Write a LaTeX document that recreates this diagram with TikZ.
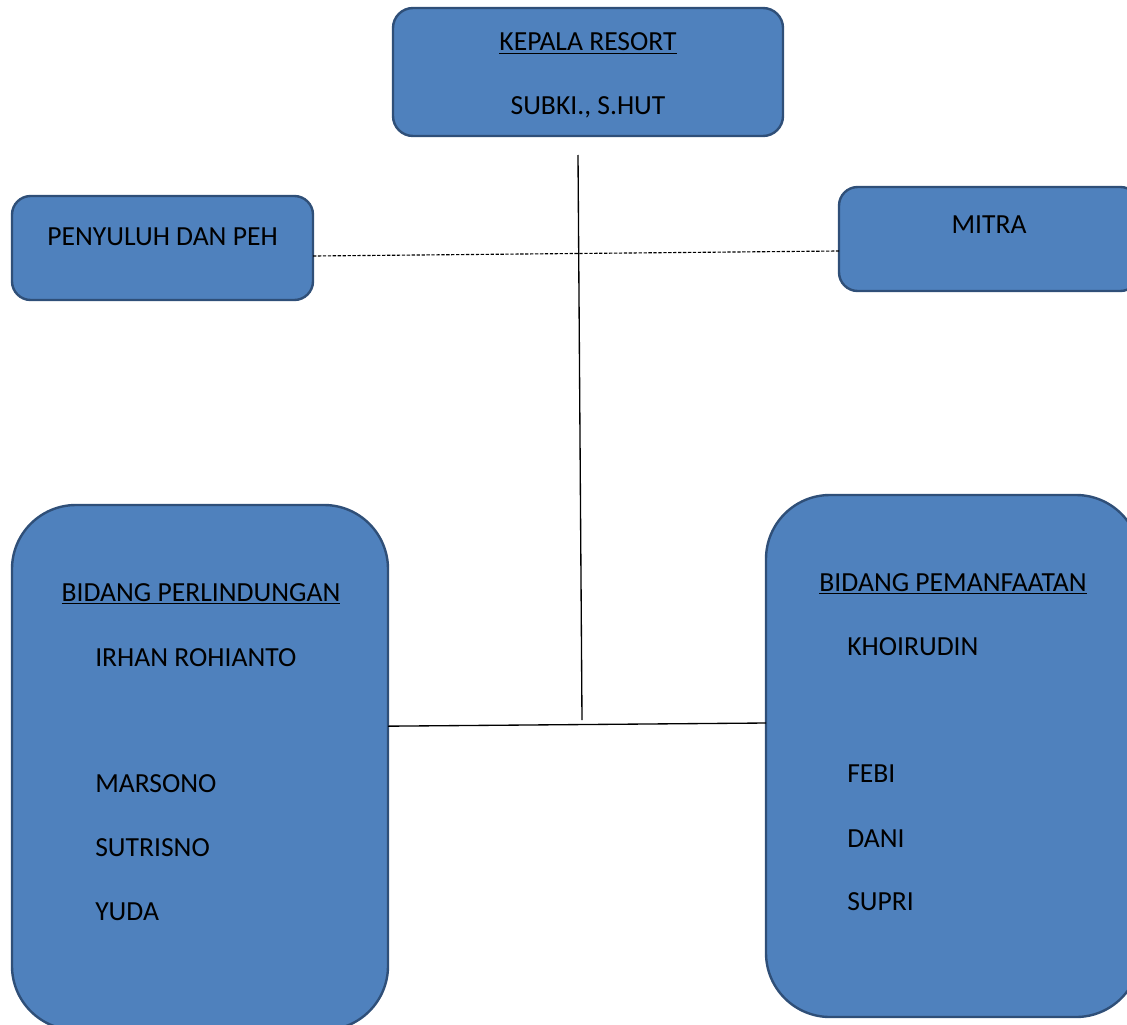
\documentclass[tikz,border=0pt]{standalone}
\usepackage{fontspec}
\setmainfont{Carlito}
\usetikzlibrary{positioning}
\definecolor{boxfill}{HTML}{4F81BD}
\definecolor{boxline}{HTML}{2F4F78}

\begin{document}
\begin{tikzpicture}[x=0.75pt,y=-0.75pt,
  box/.style={draw=boxline,fill=boxfill,line width=1.8pt,rounded corners=#1,outer sep=0pt,inner sep=0pt},
  box/.default=14pt,
  txt/.style={font=\fontsize{20.7}{24}\selectfont,inner sep=0pt},
  conn/.style={line width=1pt}]
\useasboundingbox (0,0) rectangle (1127,1024);
\clip (0,0) rectangle (1127,1024);
\node[box=15pt,minimum width=292.5pt,minimum height=96pt](kepala) at (588,72){};
\node[box,minimum width=225.75pt,minimum height=78pt](penyuluh) at (162.5,248){};
\node[box,minimum width=225pt,minimum height=78pt](mitra) at (989,239){};
\node[box=48pt,minimum width=282pt,minimum height=393.75pt](perlin) at (200,767.5){};
\node[box=48pt,minimum width=280.5pt,minimum height=391.5pt](manfaat) at (953,756){};
\node[txt,anchor=base](kepala-head) at (588,51){\underline{KEPALA RESORT}};
\node[txt,anchor=base](kepala-name) at (588,114){SUBKI., S.HUT};
\node[txt,anchor=base](penyuluh-text) at (162.5,245){PENYULUH DAN PEH};
\node[txt,anchor=base](mitra-text) at (989,233){MITRA};
\node[txt,anchor=base](perlin-head) at (201,601){\underline{BIDANG PERLINDUNGAN}};
\foreach \name/\y [count=\i] in {IRHAN ROHIANTO/657,MARSONO/783,SUTRISNO/847,YUDA/911}
  \node[txt,anchor=base west](perlin-\i) at (95,{\y+9}){\name};
\node[txt,anchor=base](manfaat-head) at (953,591){\underline{BIDANG PEMANFAATAN}};
\foreach \name/\y [count=\i] in {KHOIRUDIN/646,FEBI/773,DANI/838,SUPRI/901}
  \node[txt,anchor=base west](manfaat-\i) at (847,{\y+9}){\name};
% garis
\coordinate (vtop) at (578,155);
\coordinate (vbottom) at (582,720);
\draw[conn] (vtop) -- (vbottom);
\draw[conn] ([yshift=31pt]perlin.east) -- ([yshift=24.75pt]manfaat.west);
\draw[line width=0.85pt,dash pattern=on 2.5pt off 1.2pt] ([yshift=-6pt]penyuluh.east) -- ([yshift=-9pt]mitra.west);
\end{tikzpicture}
\end{document}
